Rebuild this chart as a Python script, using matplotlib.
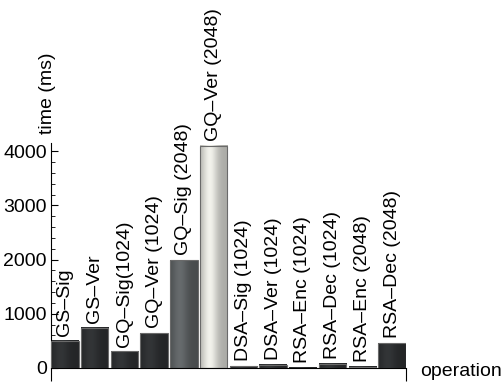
#import libraries
import numpy as np
import matplotlib.pyplot as plt
from matplotlib.ticker import MultipleLocator

plt.rcParams['font.family'] = ['Liberation Sans', 'DejaVu Sans']

#data
operations = ["GS–Sig", "GS–Ver", "GQ–Sig(1024)", "GQ–Ver (1024)", "GQ–Sig (2048)",
              "GQ–Ver (2048)", "DSA–Sig (1024)", "DSA–Ver (1024)", "RSA–Enc (1024)",
              "RSA–Dec (1024)", "RSA–Enc (2048)", "RSA–Dec (2048)"]
times_ms = [505, 740, 305, 640, 1990, 4100, 30, 60, 8, 80, 25, 455]
bar_colors = ["#2e3032"] * 4 + ["#5d6163", "#dcdcd6"] + ["#2e3032"] * 6

#figure
fig = plt.figure(figsize=(5.04, 3.82), dpi=100)
ax = fig.add_axes([51/504, 14/382, 355/504, 225/382])

x = np.arange(len(times_ms))
w = 0.925
bars = ax.bar(x, times_ms, width=w, color="none", edgecolor="#6a6a6a", linewidth=0.8, zorder=3)

#shaded fill for each bar (dark edges, lighter left-centre)
t = np.linspace(0, 1, 60)
profile = 0.78 + 0.32 * np.exp(-((t - 0.35) / 0.28) ** 2)
for b, c in zip(bars, bar_colors):
    rgb = np.array(plt.matplotlib.colors.to_rgb(c))
    img = np.clip(profile[None, :, None] * rgb[None, None, :], 0, 1)
    x0 = b.get_x()
    ax.imshow(img, extent=(x0, x0 + b.get_width(), 0, b.get_height()),
              aspect="auto", zorder=2, interpolation="bilinear")

#labels above the bars
for xi, h, lab in zip(x, times_ms, operations):
    ax.text(xi, h + 90, lab, rotation=90, ha="center", va="bottom",
            fontsize=14, clip_on=False)

ax.set_xlim(-w/2, len(times_ms) - 1 + w/2)
ax.set_ylim(0, 4150)
ax.yaxis.set_major_locator(MultipleLocator(1000))
ax.yaxis.set_minor_locator(MultipleLocator(200))
ax.tick_params(axis="y", which="major", direction="in", length=5, labelsize=14, pad=3)
ax.tick_params(axis="y", which="minor", direction="in", length=3)
ax.set_xticks([-w/2, len(times_ms) - 1 + w/2])
ax.set_xticklabels([])
ax.tick_params(axis="x", direction="out", length=9)
for s in ["top", "right"]:
    ax.spines[s].set_visible(False)

fig.text(47/504, 1 - 93/382, "time (ms)", rotation=90, ha="center", va="center", fontsize=14)
fig.text(420/504, 1 - 372/382, "operation", ha="left", va="center", fontsize=14)

#save the image
fig.savefig("out.png", dpi=100)
